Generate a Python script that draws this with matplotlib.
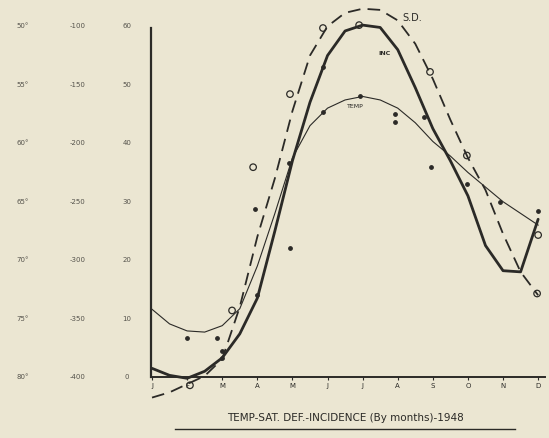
import matplotlib
matplotlib.use("Agg")
import matplotlib.pyplot as plt
import numpy as np

# half-month steps, J=0 ... D=11
months = ['J', 'F', 'M', 'A', 'M', 'J', 'J', 'A', 'S', 'O', 'N', 'D']
x_half = np.arange(0, 11.5, 0.5)

# curves (incidence scale 0-60)
inc_curve = [1.5, 0.3, -0.2, 1.0, 3.3, 7.4, 13.5, 25.0, 37.0, 47.0, 55.0, 59.2,
             60.2, 59.8, 56.0, 49.5, 42.5, 37.0, 31.0, 22.5, 18.2, 18.0, 27.0]
sd_curve = [-3.5, -2.6, -1.2, 0.2, 3.1, 12.0, 24.0, 34.0, 45.5, 55.0, 60.0, 62.3,
            63.0, 62.8, 61.0, 57.0, 51.0, 44.0, 37.5, 32.0, 24.5, 18.0, 14.0]
temp_curve = [11.6, 9.1, 7.9, 7.7, 8.8, 11.7, 19.0, 28.0, 37.5, 43.0, 46.0, 47.4,
              48.0, 47.4, 46.0, 43.5, 40.3, 37.8, 35.0, 32.5, 30.0, 28.0, 26.0]

# plotted observations
dot_x = [1.0, 1.85, 2.0, 2.0, 3.0, 2.93, 3.93, 3.9, 4.87, 4.87, 5.93, 6.92, 6.92,
         7.75, 7.95, 8.97, 9.91, 11.0]
dot_y = [6.7, 6.7, 4.5, 3.3, 14.0, 28.8, 22.0, 36.6, 53.0, 45.3, 48.0, 45.0, 43.6,
         44.5, 36.0, 33.0, 30.0, 28.4]
circ_x = [1.08, 2.28, 2.88, 3.93, 4.87, 5.9, 7.92, 8.97, 11.0, 10.97]
circ_y = [-1.4, 11.4, 35.9, 48.4, 59.7, 60.2, 52.2, 37.9, 24.3, 14.3]

# left hand scales
temp_labels = ["50°", "55°", "60°", "65°", "70°", "75°", "80°"]
sd_labels = ["-100", "-150", "-200", "-250", "-300", "-350", "-400"]
inc_labels = ["60", "50", "40", "30", "20", "10", "0"]
inc_ticks = [60, 50, 40, 30, 20, 10, 0]

bg = '#ebe6d2'
ink = '#2b2a27'

fig = plt.figure(figsize=(5.49, 4.38), dpi=100, facecolor=bg)
ax = fig.add_axes([0.275, 0.139, 0.718, 0.797], facecolor=bg)
ax.set_xlim(-0.03, 11.2)
ax.set_ylim(0, 59.7)

ax.plot(x_half, inc_curve, color=ink, lw=2.0, clip_on=False,
        solid_capstyle='round', solid_joinstyle='round')
ax.plot(x_half, sd_curve, color=ink, lw=1.3, dashes=(7, 4), clip_on=False)
ax.plot(x_half, temp_curve, color=ink, lw=0.8, clip_on=False)
ax.scatter(dot_x, dot_y, s=6, color=ink, clip_on=False, zorder=3)
ax.scatter(circ_x, circ_y, s=22, facecolor='none', edgecolor=ink, lw=0.9,
           clip_on=False, zorder=3)

ax.text(7.12, 61.4, "S.D.", fontsize=7, color=ink, va='center')
ax.text(6.44, 55.3, "INC", fontsize=4.5, color=ink, va='center', fontweight='bold')
ax.text(5.55, 46.2, "TEMP", fontsize=4.5, color=ink, va='center')

for s in ['top', 'right']:
    ax.spines[s].set_visible(False)
ax.spines['left'].set_linewidth(1.6)
ax.spines['bottom'].set_linewidth(1.4)
ax.spines['left'].set_color(ink)
ax.spines['bottom'].set_color(ink)

ax.set_xticks(range(12))
ax.set_xticklabels(months, fontsize=5, color=ink)
ax.tick_params(axis='x', length=2, width=0.8, pad=2, color=ink)
ax.set_yticks([])

# three scale columns on the left
tr = matplotlib.transforms.blended_transform_factory(fig.transFigure, ax.transData)
for col_x, labels in [(23 / 549, temp_labels), (78 / 549, sd_labels), (127 / 549, inc_labels)]:
    for v, lab in zip(inc_ticks, labels):
        ax.text(col_x, v, lab, transform=tr, fontsize=5, color='#55534c',
                ha='center', va='center')

fig.text(345 / 549, 1 - 418 / 438, "TEMP-SAT. DEF.-INCIDENCE (By months)-1948",
         fontsize=7.5, color=ink, ha='center', va='center')
fig.add_artist(plt.Line2D([175 / 549, 515 / 549], [1 - 429 / 438, 1 - 429 / 438],
                          color=ink, lw=1.0, transform=fig.transFigure))

fig.savefig("out.png", dpi=100, facecolor=bg)
